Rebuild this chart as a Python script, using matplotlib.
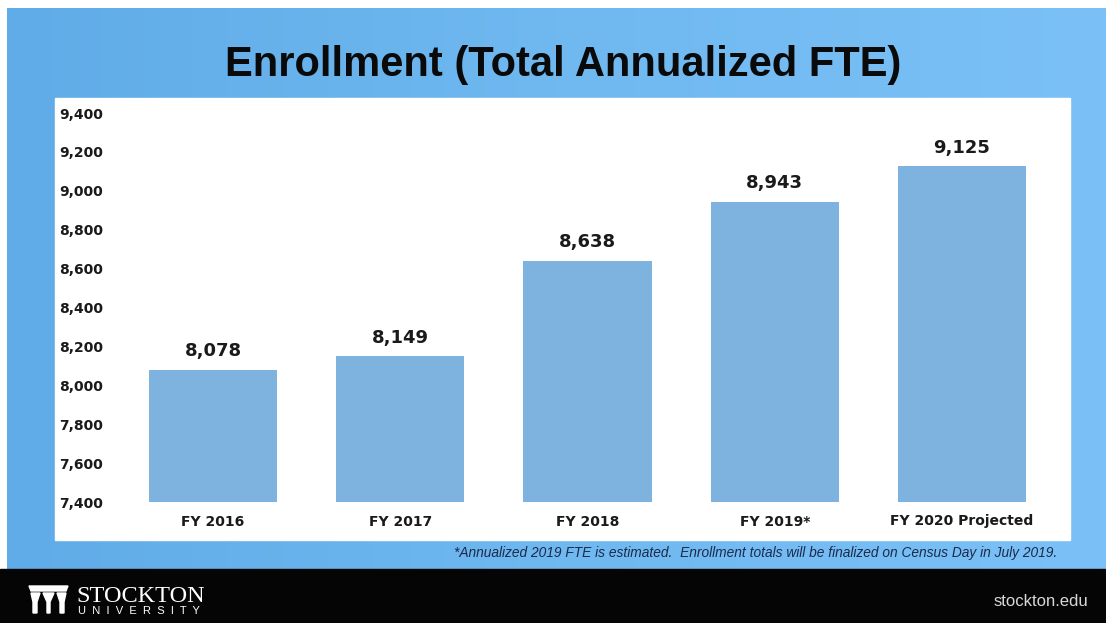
import numpy as np
import matplotlib.pyplot as plt
from matplotlib.patches import Rectangle, Polygon
from matplotlib.colors import LinearSegmentedColormap
from matplotlib.ticker import FuncFormatter

# ---------------------------------------------------------------
# Data
# ---------------------------------------------------------------
years = ["FY 2016", "FY 2017", "FY 2018", "FY 2019*", "FY 2020 Projected"]
fte = [8078, 8149, 8638, 8943, 9125]
y_ticks = [7400, 7600, 7800, 8000, 8200, 8400, 8600, 8800, 9000, 9200, 9400]

title = "Enrollment (Total Annualized FTE)"
footnote = ("*Annualized 2019 FTE is estimated.  Enrollment totals will be "
            "finalized on Census Day in July 2019.")

BAR_COLOR = "#7fb3df"
TEXT_COLOR = "#1a1a1a"

plt.rcParams["font.family"] = ["DejaVu Sans"]

W, H = 1106, 623
fig = plt.figure(figsize=(W / 100, H / 100), dpi=100)
fig.patch.set_facecolor("white")

# background canvas in pixel coordinates
bg = fig.add_axes([0, 0, 1, 1])
bg.set_xlim(0, W)
bg.set_ylim(H, 0)
bg.axis("off")

# blue gradient backdrop
grad = np.linspace(0, 1, 256).reshape(1, -1)
cmap = LinearSegmentedColormap.from_list("bluebg", ["#60ace8", "#6fb8f0", "#7bc1f7"])
bg.imshow(grad, cmap=cmap, extent=(7, W, 569, 8), aspect="auto", zorder=0)

# black footer
bg.add_patch(Rectangle((0, 569), W, H - 569, color="#050505", zorder=1))

# white chart panel
bg.add_patch(Rectangle((55, 98), 1015, 442, color="white", zorder=1))

# title
bg.text(563, 65, title, ha="center", va="center", fontsize=30, fontweight="bold",
        family=["Liberation Sans", "DejaVu Sans"], color="#0a0a0a", zorder=2)

# footnote
bg.text(1057, 553, footnote, ha="right", va="center", fontsize=9.9, style="italic",
        family=["Liberation Sans", "DejaVu Sans"], color="#1c2a4a", zorder=2)

# logo
icon = [
    [(29, 586), (68, 586), (66, 591), (31, 591)],
    [(31, 593), (40, 593), (37, 602), (37, 613), (33, 613), (33, 602)],
    [(43, 593), (54, 593), (50, 602), (50, 613), (47, 613), (47, 602)],
    [(57, 593), (66, 593), (64, 602), (64, 613), (60, 613), (60, 602)],
]
for pts in icon:
    bg.add_patch(Polygon(pts, closed=True, color="white", zorder=2))
bg.text(76, 596, "STOCKTON", ha="left", va="center", fontsize=17.5,
        family=["Liberation Serif", "DejaVu Serif"], color="white", zorder=2)
bg.text(78, 611, "U  N  I  V  E  R  S  I  T  Y", ha="left", va="center", fontsize=8,
        family=["Liberation Sans", "DejaVu Sans"], color="white", zorder=2)
bg.text(1088, 602, "stockton.edu", ha="right", va="center", fontsize=12,
        family=["Liberation Sans", "DejaVu Sans"], color="#d8d8d8", zorder=2)

# ---------------------------------------------------------------
# Bar chart
# ---------------------------------------------------------------
ax = fig.add_axes([110 / W, (H - 502) / H, 955 / W, 389 / H])
ax.patch.set_alpha(0)
x = np.arange(len(years))
ax.bar(x, np.array(fte) - y_ticks[0], bottom=y_ticks[0], width=0.685,
       color=BAR_COLOR, zorder=2)

for xi, v in zip(x, fte):
    ax.annotate(f"{v:,}", (xi, v), xytext=(0, 7), textcoords="offset points",
                ha="center", va="bottom", fontsize=13, fontweight="bold",
                color=TEXT_COLOR)

ax.set_xlim(-0.55, len(years) - 0.45)
ax.set_ylim(y_ticks[0], y_ticks[-1])
ax.set_yticks(y_ticks)
ax.yaxis.set_major_formatter(FuncFormatter(lambda v, p: f"{int(v):,}"))
ax.set_xticks(x)
ax.set_xticklabels(years)
for s in ax.spines.values():
    s.set_visible(False)
ax.tick_params(axis="both", length=0, colors=TEXT_COLOR)
ax.tick_params(axis="y", pad=5, labelsize=10)
ax.tick_params(axis="x", pad=9, labelsize=10)
for lab in ax.get_xticklabels() + ax.get_yticklabels():
    lab.set_fontweight("bold")

fig.savefig("out.png", dpi=100)
